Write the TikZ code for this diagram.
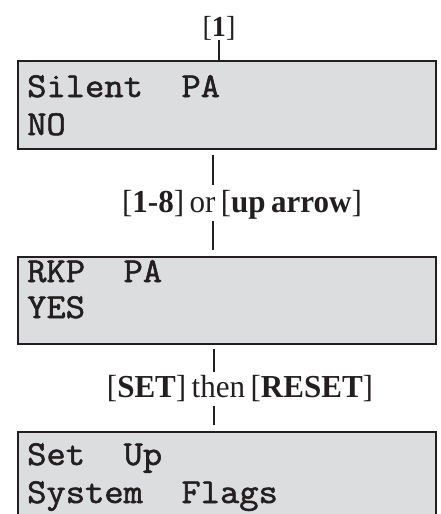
\documentclass[tikz,border=0pt]{standalone}
\usepackage{fontspec}
\setmainfont{Liberation Serif}
\newfontfamily\lcdfont[FakeBold=1.6,FakeStretch=1.07]{Latin Modern Mono}
\newfontfamily\keyfont[FakeStretch=0.97]{Liberation Serif}
\newcommand\keyspacing{\spaceskip=0.17em plus 0.05em\relax}
\definecolor{lcdgray}{RGB}{220,221,223}
\definecolor{ink}{RGB}{35,31,32}
\begin{document}
\begin{tikzpicture}[x=1pt,y=-1pt,
  lcd/.style={draw=ink, line width=2.2pt, fill=lcdgray, minimum width=418pt, inner sep=0pt, anchor=north west},
  lcdtext/.style={anchor=base west, inner sep=0pt, text=ink, font=\lcdfont\fontsize{35}{38}\selectfont},
  keylab/.style={anchor=base, inner xsep=0pt, inner ysep=2pt, text=ink, font=\keyfont\fontsize{32}{34}\selectfont\keyspacing},
  conn/.style={draw=ink, line width=2pt}]
\useasboundingbox (0,0) rectangle (441,514);
% boxes
\node[lcd, minimum height=88pt] (b1) at (17,60) {};
\node[lcd, minimum height=87pt] (b2) at (17,256) {};
\node[lcd, minimum height=110pt] (b3) at (17,431) {};
% display texts
\node[lcdtext] (t1a) at (27,97) {Silent\ \ PA};
\node[lcdtext] (t1b) at (27,135) {NO};
\node[lcdtext] (t2a) at (27,282) {RKP\ \ PA};
\node[lcdtext] (t2b) at (27,318) {YES};
\node[lcdtext] (t3a) at (27,465) {Set\ \ Up};
\node[lcdtext] (t3b) at (27,503) {System\ \ Flags};
% key labels
\node[keylab, font=\keyfont\fontsize{29}{30}\selectfont] (k1) at (219,36) {[\textbf{1}]};
\node[keylab] (k2) at (242,212) {[\textbf{1-8}] or [\textbf{up arrow}]};
\node[keylab] (k3) at (240,397) {[\textbf{SET}] then [\textbf{RESET}]};
% line positions
\coordinate (c1) at (219,40);
\coordinate (c2) at (213,0);
\coordinate (c3) at (214,0);
% connectors
\draw[conn] (c1) -- (b1.north -| c1);
\draw[conn, shorten <=5pt, shorten >=3pt] (b1.south -| c2) -- (k2.north -| c2);
\draw[conn, shorten >=6pt] (k2.south -| c2) -- (b2.north -| c2);
\draw[conn, shorten <=4pt, shorten >=1pt] (b2.south -| c3) -- (k3.north -| c3);
\draw[conn, shorten <=3pt, shorten >=6pt] (k3.south -| c3) -- (b3.north -| c3);
\end{tikzpicture}
\end{document}
